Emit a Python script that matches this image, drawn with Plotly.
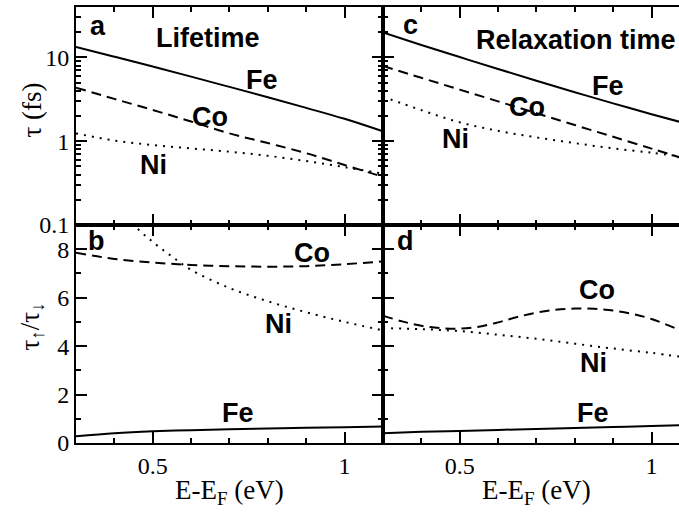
import plotly.graph_objects as go
from plotly.subplots import make_subplots

# ---------------- data ----------------
x_a = [0.3, 0.4, 0.5, 0.6, 0.7, 0.8, 0.9, 1.0, 1.1]
fe_life = [13.3, 10.2, 7.8, 5.9, 4.45, 3.35, 2.5, 1.85, 1.31]
co_life = [4.35, 3.2, 2.36, 1.72, 1.24, 0.95, 0.72, 0.52, 0.376]
ni_life = [1.24, 1.02, 0.9, 0.82, 0.75, 0.67, 0.58, 0.49, 0.41]

x_c = [0.3, 0.4, 0.5, 0.6, 0.7, 0.8, 0.9, 1.0, 1.072]
fe_relax = [19.9, 14.1, 10.1, 7.28, 5.27, 3.85, 2.83, 2.1, 1.71]
co_relax = [7.9, 5.71, 4.13, 2.99, 2.16, 1.56, 1.13, 0.815, 0.645]
ni_relax = [3.4, 2.35, 1.68, 1.33, 1.11, 0.95, 0.82, 0.73, 0.66]

x_b = [0.3, 0.4, 0.5, 0.6, 0.7, 0.8, 0.9, 1.0, 1.1]
fe_ratio_life = [0.28, 0.4, 0.48, 0.53, 0.57, 0.6, 0.63, 0.65, 0.68]
co_ratio_life = [7.85, 7.6, 7.45, 7.35, 7.3, 7.28, 7.3, 7.38, 7.5]
x_b_ni = [0.35, 0.4, 0.45, 0.5, 0.55, 0.6, 0.7, 0.8, 0.9, 1.0, 1.1]
ni_ratio_life = [10.8, 9.8, 9.0, 8.3, 7.7, 7.15, 6.4, 5.85, 5.4, 5.0, 4.65]

x_d = [0.3, 0.35, 0.4, 0.45, 0.5, 0.55, 0.6, 0.65, 0.7, 0.75, 0.8, 0.85, 0.9, 0.95, 1.0, 1.072]
co_ratio_relax = [5.26, 5.02, 4.84, 4.74, 4.72, 4.8, 4.98, 5.2, 5.38, 5.5, 5.55, 5.54, 5.47, 5.33, 5.12, 4.67]
x_d2 = [0.3, 0.4, 0.5, 0.6, 0.7, 0.8, 0.9, 1.0, 1.072]
ni_ratio_relax = [4.74, 4.7, 4.62, 4.47, 4.3, 4.1, 3.9, 3.72, 3.57]
fe_ratio_relax = [0.4, 0.46, 0.5, 0.54, 0.58, 0.62, 0.66, 0.7, 0.73]

log_major = [0.1, 1, 10]
log_major_text = ["0.1", "1", "10"]
log_minor = [0.2, 0.3, 0.4, 0.5, 0.6, 0.7, 0.8, 0.9, 2, 3, 4, 5, 6, 7, 8, 9, 20, 30]

# ---------------- figure ----------------
W, H = 679, 512
ml, mr, mt, mb = 75.5, 0, 7, 69
fig = make_subplots(rows=2, cols=2, horizontal_spacing=0, vertical_spacing=0,
                    column_widths=[307.2, 296.3])

solid = dict(color="black", width=2)
dashed = dict(color="black", width=2, dash="10px,6px")
dotted = dict(color="black", width=2, dash="2px,6px")

def add(x, y, line, r, c):
    fig.add_trace(go.Scatter(x=x, y=y, mode="lines", line=dict(line, shape="spline"),
                             showlegend=False, hoverinfo="skip"), row=r, col=c)

add(x_a, fe_life, solid, 1, 1)
add(x_a, co_life, dashed, 1, 1)
add(x_a, ni_life, dotted, 1, 1)
add(x_c, fe_relax, solid, 1, 2)
add(x_c, co_relax, dashed, 1, 2)
add(x_c, ni_relax, dotted, 1, 2)
add(x_b, fe_ratio_life, solid, 2, 1)
add(x_b, co_ratio_life, dashed, 2, 1)
add(x_b_ni, ni_ratio_life, dotted, 2, 1)
add(x_d2, fe_ratio_relax, solid, 2, 2)
add(x_d, co_ratio_relax, dashed, 2, 2)
add(x_d2, ni_ratio_relax, dotted, 2, 2)

tickfont = dict(family="Liberation Serif", size=24, color="black")
common = dict(showline=True, linecolor="black", linewidth=2, ticks="inside",
              tickcolor="black", tickwidth=1.5, ticklen=11, showgrid=False,
              zeroline=False, tickfont=tickfont)

xminor = dict(ticks="inside", dtick=0.1, tick0=0.3, ticklen=5, tickwidth=1.5, tickcolor="black")
for r in (1, 2):
    for c in (1, 2):
        rng = [0.3, 1.1] if c == 1 else [0.3, 1.0716]
        fig.update_xaxes(range=rng, tickvals=[0.5, 1.0], ticktext=["0.5", "1"],
                         minor=xminor, mirror="ticks", showticklabels=(r == 2),
                         row=r, col=c, **common)

yminor_log = dict(ticks="inside", tickmode="array", tickvals=log_minor, ticklen=5,
                  tickwidth=1.5, tickcolor="black")
yminor_lin = dict(ticks="inside", dtick=1, tick0=0, ticklen=5, tickwidth=1.5, tickcolor="black")
for c in (1, 2):
    fig.update_yaxes(type="log", range=[-1, 1.602], tickmode="array", tickvals=log_major,
                     ticktext=log_major_text, minor=yminor_log,
                     mirror=("ticks" if c == 1 else False), showticklabels=(c == 1),
                     row=1, col=c, **common)
    fig.update_yaxes(range=[0, 9], tickmode="array", tickvals=[0, 2, 4, 6, 8],
                     ticktext=["0", "2", "4", "6", "8"], minor=yminor_lin,
                     mirror=("ticks" if c == 1 else False), showticklabels=(c == 1),
                     row=2, col=c, **common)

bold = dict(family="Liberation Sans", size=27, color="black")

def lab(text, x, y, xref, yref, xanchor="center"):
    fig.add_annotation(text="<b>%s</b>" % text, x=x, y=y, xref=xref, yref=yref,
                       showarrow=False, font=bold, xanchor=xanchor, yanchor="middle")

# panel a (log axis: y in log10 units)
lab("a", 0.357, 1.37, "x", "y")
lab("Lifetime", 0.645, 1.23, "x", "y")
lab("Fe", 0.785, 0.73, "x", "y")
lab("Co", 0.65, 0.29, "x", "y")
lab("Ni", 0.503, -0.28, "x", "y")
# panel c
lab("c", 0.371, 1.39, "x2", "y2")
lab("Relaxation time", 1.069, 1.21, "x2", "y2", xanchor="right")
lab("Fe", 0.887, 0.66, "x2", "y2")
lab("Co", 0.676, 0.41, "x2", "y2")
lab("Ni", 0.488, 0.03, "x2", "y2")
# panel b
lab("b", 0.353, 8.35, "x3", "y3")
lab("Co", 0.915, 7.85, "x3", "y3")
lab("Ni", 0.828, 4.9, "x3", "y3")
lab("Fe", 0.723, 1.24, "x3", "y3")
# panel d
lab("d", 0.358, 8.35, "x4", "y4")
lab("Co", 0.858, 6.32, "x4", "y4")
lab("Ni", 0.848, 3.3, "x4", "y4")
lab("Fe", 0.848, 1.24, "x4", "y4")

pw = W - ml - mr
ph = H - mt - mb
titlefont = dict(family="Liberation Serif", size=27, color="black")

def px2paper(xp, yp):
    return (xp - ml) / pw, (H - mb - yp) / ph

def title(text, xp, yp, angle=0):
    tx, ty = px2paper(xp, yp)
    fig.add_annotation(text=text, x=tx, y=ty, xref="paper", yref="paper", showarrow=False,
                       textangle=angle, font=titlefont, xanchor="center", yanchor="middle")

title("τ (fs)", 31, 110, -90)
title("τ<sub>↑</sub>/τ<sub>↓</sub>", 31, 327, -90)
title("E-E<sub>F</sub> (eV)", 229, 492)
title("E-E<sub>F</sub> (eV)", 536, 492)

fig.update_layout(width=W, height=H, margin=dict(l=ml, r=mr, t=mt, b=mb, pad=0),
                  paper_bgcolor="white", plot_bgcolor="white", showlegend=False)

fig.write_html("out.html")
